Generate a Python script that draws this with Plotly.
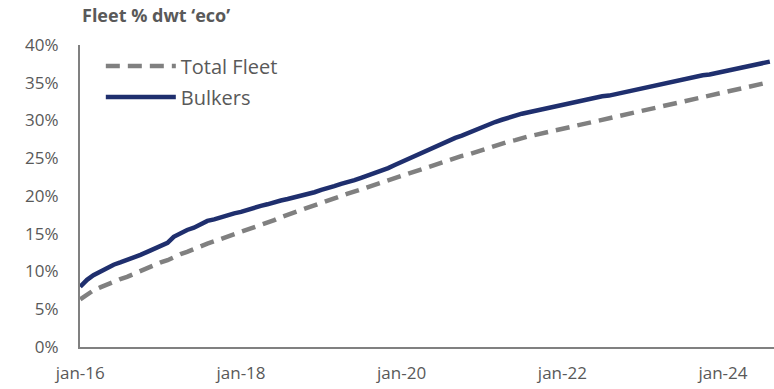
import plotly.graph_objects as go
import pandas as pd

# Monthly dates, Jan 2016 .. Aug 2024
months = pd.date_range("2016-01-01", periods=104, freq="MS")

total_fleet = [
    6.3, 6.9, 7.5, 7.9, 8.3, 8.6, 9.0, 9.3, 9.7, 10.1, 10.4, 10.8,
    11.2, 11.5, 11.9, 12.3, 12.6, 13.0, 13.3, 13.7, 14.0, 14.3, 14.7, 15.0,
    15.3, 15.6, 15.9, 16.2, 16.5, 16.8, 17.2, 17.5, 17.8, 18.1, 18.5, 18.8,
    19.1, 19.4, 19.7, 20.0, 20.3, 20.6, 20.9, 21.2, 21.5, 21.8, 22.1, 22.4,
    22.7, 23.0, 23.3, 23.6, 23.9, 24.1, 24.4, 24.7, 25.0, 25.3, 25.5, 25.8,
    26.1, 26.4, 26.6, 26.9, 27.2, 27.4, 27.7, 27.9, 28.1, 28.3, 28.5, 28.7,
    28.9, 29.1, 29.3, 29.5, 29.7, 29.9, 30.1, 30.3, 30.5, 30.7, 30.9, 31.1,
    31.3, 31.5, 31.7, 31.9, 32.1, 32.3, 32.5, 32.7, 32.9, 33.1, 33.3, 33.5,
    33.7, 33.9, 34.1, 34.3, 34.5, 34.7, 34.9, 35.1,
]

bulkers = [
    8.0, 8.9, 9.5, 10.0, 10.5, 10.9, 11.2, 11.5, 11.8, 12.2, 12.6, 13.0,
    13.5, 13.8, 14.6, 15.1, 15.5, 15.8, 16.3, 16.7, 16.9, 17.2, 17.5, 17.7,
    17.9, 18.2, 18.5, 18.7, 18.9, 19.2, 19.4, 19.6, 19.8, 20.1, 20.3, 20.5,
    20.8, 21.0, 21.3, 21.6, 21.8, 22.1, 22.4, 22.7, 23.0, 23.3, 23.7, 24.1,
    24.5, 24.9, 25.3, 25.7, 26.1, 26.6, 27.0, 27.3, 27.7, 28.0, 28.4, 28.8,
    29.2, 29.5, 29.8, 30.1, 30.4, 30.7, 30.9, 31.1, 31.3, 31.5, 31.7, 31.9,
    32.1, 32.3, 32.5, 32.6, 32.8, 33.0, 33.2, 33.3, 33.5, 33.7, 33.9, 34.0,
    34.2, 34.4, 34.6, 34.8, 35.0, 35.2, 35.4, 35.6, 35.8, 36.0, 36.1, 36.3,
    36.5, 36.7, 36.8, 37.0, 37.2, 37.4, 37.6, 37.8,
]

y_ticks = [0, 5, 10, 15, 20, 25, 30, 35, 40]
y_tick_labels = ["0%", "5%", "10%", "15%", "20%", "25%", "30%", "35%", "40%"]
x_ticks = ["2016-01-01", "2018-01-01", "2020-01-01", "2022-01-01", "2024-01-01"]
x_tick_labels = ["jan-16", "jan-18", "jan-20", "jan-22", "jan-24"]

FONT = "Century Gothic, Open Sans, sans-serif"
TXT = "#595959"

fig = go.Figure()
fig.add_trace(go.Scatter(
    x=months, y=total_fleet, name="Total Fleet", mode="lines",
    legendgroup="a",
    line=dict(color="#808080", width=4.5, dash="14px,8px"),
))
fig.add_trace(go.Scatter(
    x=months, y=bulkers, name="Bulkers", mode="lines",
    legendgroup="b",
    line=dict(color="#1f2f6e", width=4.5),
))

fig.update_layout(
    width=774, height=389,
    margin=dict(l=80, r=0, t=45, b=42),
    paper_bgcolor="white", plot_bgcolor="white",
    font=dict(family=FONT, color=TXT, size=15),
    showlegend=True,
    legend=dict(
        x=0.03, y=0.995, xanchor="left", yanchor="top",
        bgcolor="rgba(0,0,0,0)", font=dict(size=20, color=TXT),
        itemwidth=70, tracegroupgap=2,
    ),
    annotations=[dict(
        text="<b>Fleet % dwt ‘eco’</b>", xref="paper", yref="paper",
        x=0.0, y=1.0, xanchor="left", yanchor="bottom", yshift=16,
        showarrow=False, font=dict(size=18, color=TXT, family=FONT),
    )],
)
fig.update_xaxes(
    type="date", range=["2015-12-31", "2024-08-20"],
    tickvals=x_ticks, ticktext=x_tick_labels,
    showgrid=False, zeroline=False,
    showline=True, linecolor="#808080", linewidth=2,
    ticks="outside", ticklen=10, tickcolor="rgba(0,0,0,0)",
    tickfont=dict(size=17, color=TXT),
)
fig.update_yaxes(
    range=[0, 40], tickvals=y_ticks, ticktext=y_tick_labels,
    showgrid=False, zeroline=False,
    showline=True, linecolor="#808080", linewidth=2,
    ticks="outside", ticklen=16, tickcolor="rgba(0,0,0,0)",
    tickfont=dict(size=17, color=TXT),
)

fig.write_html(
    "out.html",
    config={"displayModeBar": False},
    post_script="document.body.style.margin='0';document.body.style.padding='0';",
)
